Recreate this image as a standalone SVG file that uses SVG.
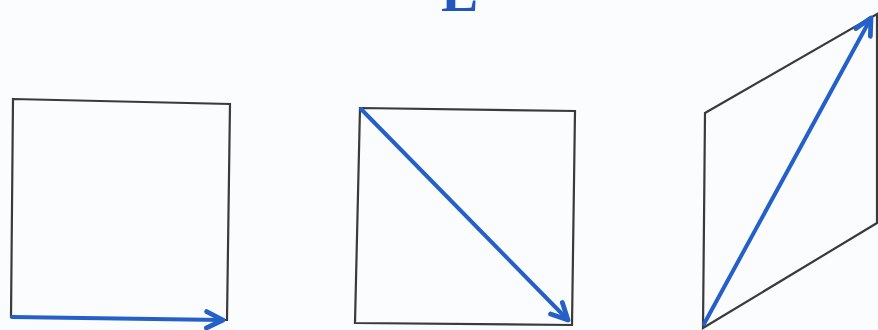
<svg xmlns="http://www.w3.org/2000/svg" width="878" height="330" viewBox="0 0 878 330">
<defs>
<style>
.shape{fill:none;stroke:#3a3a3a;stroke-width:2.2;stroke-linejoin:miter}
.vec{fill:none;stroke:#2460c8;stroke-width:4;stroke-linecap:round}
.lbl{font-family:"Liberation Serif",serif;font-size:56px;font-weight:bold;fill:#2158c0}
</style>
<marker id="ah" viewBox="0 0 12 12" refX="10.5" refY="6" markerWidth="5.5" markerHeight="5.5" markerUnits="strokeWidth" orient="auto">
<path d="M1.5,1.5 L10.5,6 L1.5,10.5" fill="none" stroke="#2460c8" stroke-width="2.6" stroke-linecap="round" stroke-linejoin="round"/>
</marker>
</defs>
<rect width="878" height="330" fill="#fbfcfe"/>
<g id="label">
<text class="lbl" x="441" y="11">E</text>
</g>
<g id="square1">
<polygon class="shape" points="13,99 230,104 227,320 11,317"/>
</g>
<g id="square2">
<polygon class="shape" points="360,108 575,111 572,325 355,323"/>
</g>
<g id="parallelogram">
<polygon class="shape" points="705,113 877,14 877,223 703,328"/>
</g>
<g id="connectors">
<line class="vec" x1="12" y1="317" x2="223" y2="320" marker-end="url(#ah)"/>
<line class="vec" x1="361" y1="109" x2="568" y2="320" marker-end="url(#ah)"/>
<line class="vec" x1="704" y1="324" x2="871" y2="18" marker-end="url(#ah)"/>
</g>
</svg>
